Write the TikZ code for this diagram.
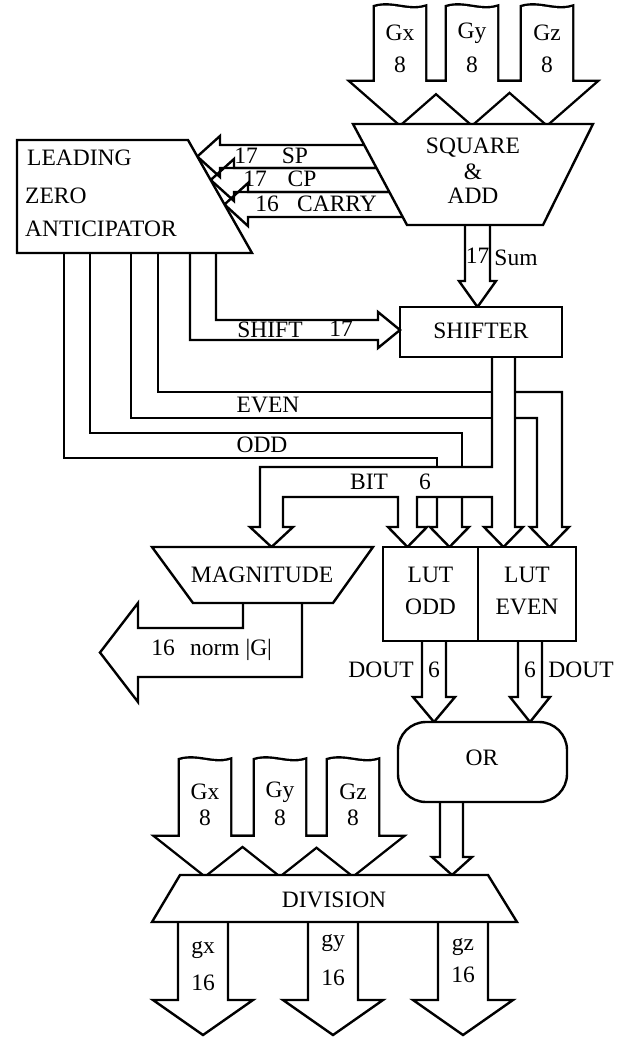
\documentclass[tikz,border=0pt]{standalone}
\usepackage{fontspec}
\setmainfont{Liberation Serif}
\newcommand\garrowpath[4]{({#1-25},#2) .. controls ({#1-8},{#2-5}) and ({#1+8},{#2+5}) .. ({#1+25},#2) -- ({#1+25},#3) -- ({#1+48},#3) -- (#1,#4) -- ({#1-48},#3) -- ({#1-25},#3) -- cycle}
\newcommand\leftarrowpath[5]{% xr, ytop, ybot, tipx, basex
  (#1,#2) -- (#5,#2) -- (#5,{#2-9}) -- (#4,{(#2+#3)/2}) -- (#5,{#3+9}) -- (#5,#3) -- (#1,#3)}
\begin{document}
\begin{tikzpicture}[x=1pt,y=-1pt,
  lw/.style={line width=2.4pt, line join=miter},
  blk/.style={lw, fill=white},
  lbl/.style={inner sep=0pt, font=\fontsize{23.5}{25}\selectfont},
]
\useasboundingbox (0,0) rectangle (629,1039);

% ---- SP / CP / CARRY buses
\draw[lw] \leftarrowpath{420}{145}{168}{197.3}{220};
\draw[lw] \leftarrowpath{420}{168}{192}{210.7}{234};
\draw[lw] \leftarrowpath{420}{192}{217}{224.5}{248};

% ---- top input arrows (union outline)
\foreach \c in {400,472,547} \draw[line width=4.8pt, line join=miter] \garrowpath{\c}{7}{82}{124};
\foreach \c in {400,472,547} \fill[white] \garrowpath{\c}{7}{82}{124};

% ---- blocks
\draw[blk] (17,140) -- (188,140) -- (252,253) -- (17,253) -- cycle;
\draw[blk] (353,124) -- (593,124) -- (543,225) -- (407,225) -- cycle;

% ---- Sum arrow
\draw[lw] (465,225) -- (465,281) -- (459,281) -- (477.5,307) -- (496,281) -- (490,281) -- (490,225);

% ---- shifter
\draw[blk] (400,307) rectangle (562,357);

% ---- LZA output buses
\draw[lw] (216,253) -- (216,320) -- (378,320) -- (378,312) -- (400,330) -- (378,348) -- (378,340) -- (190,340) -- (190,253);
\draw[lw] (158,253) -- (158,392) -- (492,392);
\draw[lw] (131,253) -- (131,418) -- (492,418);
\draw[lw] (515,392) -- (562,392) -- (562,527) -- (569,527) -- (549.5,547) -- (530,527) -- (537,527) -- (537,418) -- (515,418);
\draw[lw] (90,253) -- (90,433) -- (462,433) -- (462,467);
\draw[lw] (64,253) -- (64,458) -- (437,458) -- (437,467);

% ---- shifter output bus and BIT bus
\draw[lw] (492,357) -- (492,467) -- (260,467) -- (260,527) -- (250,527) -- (271.5,547) -- (293,527) -- (283,527) -- (283,497) -- (398,497) -- (398,527) -- (388,527) -- (407.5,547) -- (427,527) -- (417,527) -- (417,497) -- (492,497) -- (492,527) -- (484,527) -- (503.5,547) -- (523,527) -- (515,527) -- (515,357);
\draw[lw] (437,497) -- (437,527) -- (430,527) -- (449.5,547) -- (469,527) -- (462,527) -- (462,497);

% ---- LUTs and magnitude
\draw[blk] (383,547) rectangle (576,641);
\draw[lw] (478,547) -- (478,641);
\draw[blk] (152,547) -- (373,547) -- (333,603) -- (193,603) -- cycle;
\draw[lw] (243,603) -- (243,628) -- (138,628) -- (138,603) -- (100,652.5) -- (138,702) -- (138,677) -- (302,677) -- (302,603);

% ---- DOUT arrows and OR
\draw[lw] (422,641) -- (422,697) -- (413,697) -- (434,722) -- (455,697) -- (446,697) -- (446,641);
\draw[lw] (518,641) -- (518,697) -- (510,697) -- (530,722) -- (550,697) -- (542,697) -- (542,641);
\draw[blk, rounded corners=28pt] (398,722) rectangle (567,802);
\draw[lw] (440,802) -- (440,857) -- (432,857) -- (452,875) -- (472,857) -- (463,857) -- (463,802);

% ---- bottom input arrows (union outline)
\foreach \c in {205,280,353} \draw[line width=4.8pt, line join=miter] \garrowpath{\c}{760}{837}{875};
\foreach \c in {205,280,353} \fill[white] \garrowpath{\c}{760}{837}{875};

% ---- division and outputs
\draw[blk] (180,875) -- (488,875) -- (517,922) -- (152,922) -- cycle;
\foreach \c in {203,333,463}
  \draw[lw] ({\c-25},922) -- ({\c-25},1000) -- ({\c-50},1000) -- (\c,1035) -- ({\c+50},1000) -- ({\c+25},1000) -- ({\c+25},922);

% ---- labels
\node[lbl] (tgx) at (400,33) {Gx};
\node[lbl] (tgx8) at (400,65) {8};
\node[lbl] (tgy) at (472,33) {Gy};
\node[lbl] (tgy8) at (472,65) {8};
\node[lbl] (tgz) at (547,33) {Gz};
\node[lbl] (tgz8) at (547,65) {8};
\node[lbl] (sq) at (473,148) {SQUARE};
\node[lbl] (amp) at (473,172) {\&};
\node[lbl] (add) at (473,196) {ADD};
\node[lbl, anchor=west] (lza1) at (27,158) {LEADING};
\node[lbl, anchor=west] (lza2) at (25,196) {ZERO};
\node[lbl, anchor=west] (lza3) at (25,229) {ANTICIPATOR};
\node[lbl] (n17a) at (246,156) {17};
\node[lbl] (sp) at (295,156) {SP};
\node[lbl] (n17b) at (255,179) {17};
\node[lbl] (cp) at (302,179) {CP};
\node[lbl] (n16a) at (267,204) {16};
\node[lbl] (carry) at (337,204) {CARRY};
\node[lbl] (n17s) at (477.5,256) {17};
\node[lbl] (sum) at (516,258) {Sum};
\node[lbl] (shifter) at (481,331) {SHIFTER};
\node[lbl] (shift) at (270,330) {SHIFT};
\node[lbl] (n17c) at (341,329) {17};
\node[lbl] (even) at (268,405) {EVEN};
\node[lbl] (odd) at (262,445) {ODD};
\node[lbl] (bit) at (369,482) {BIT};
\node[lbl] (n6) at (425,482) {6};
\node[lbl] (mag) at (262,575) {MAGNITUDE};
\node[lbl] (lut1) at (430.5,575) {LUT};
\node[lbl] (lutodd) at (430.5,607) {ODD};
\node[lbl] (lut2) at (527,575) {LUT};
\node[lbl] (luteven) at (527,607) {EVEN};
\node[lbl] (n16n) at (163,648) {16};
\node[lbl] (norm) at (231,650) {norm |G|};
\node[lbl] (dout1) at (381,670) {DOUT};
\node[lbl] (d6a) at (434,670) {6};
\node[lbl] (d6b) at (530,670) {6};
\node[lbl] (dout2) at (581,670) {DOUT};
\node[lbl] (or) at (482,758) {OR};
\node[lbl] (bgx) at (205,792) {Gx};
\node[lbl] (bgx8) at (205,818) {8};
\node[lbl] (bgy) at (280,792) {Gy};
\node[lbl] (bgy8) at (280,818) {8};
\node[lbl] (bgz) at (353,792) {Gz};
\node[lbl] (bgz8) at (353,818) {8};
\node[lbl] (div) at (334,900) {DIVISION};
\node[lbl] (gx) at (203,950) {gx};
\node[lbl] (gx16) at (203,983) {16};
\node[lbl] (gy) at (333,943) {gy};
\node[lbl] (gy16) at (333,978) {16};
\node[lbl] (gz) at (463,947) {gz};
\node[lbl] (gz16) at (463,975) {16};
\end{tikzpicture}
\end{document}
